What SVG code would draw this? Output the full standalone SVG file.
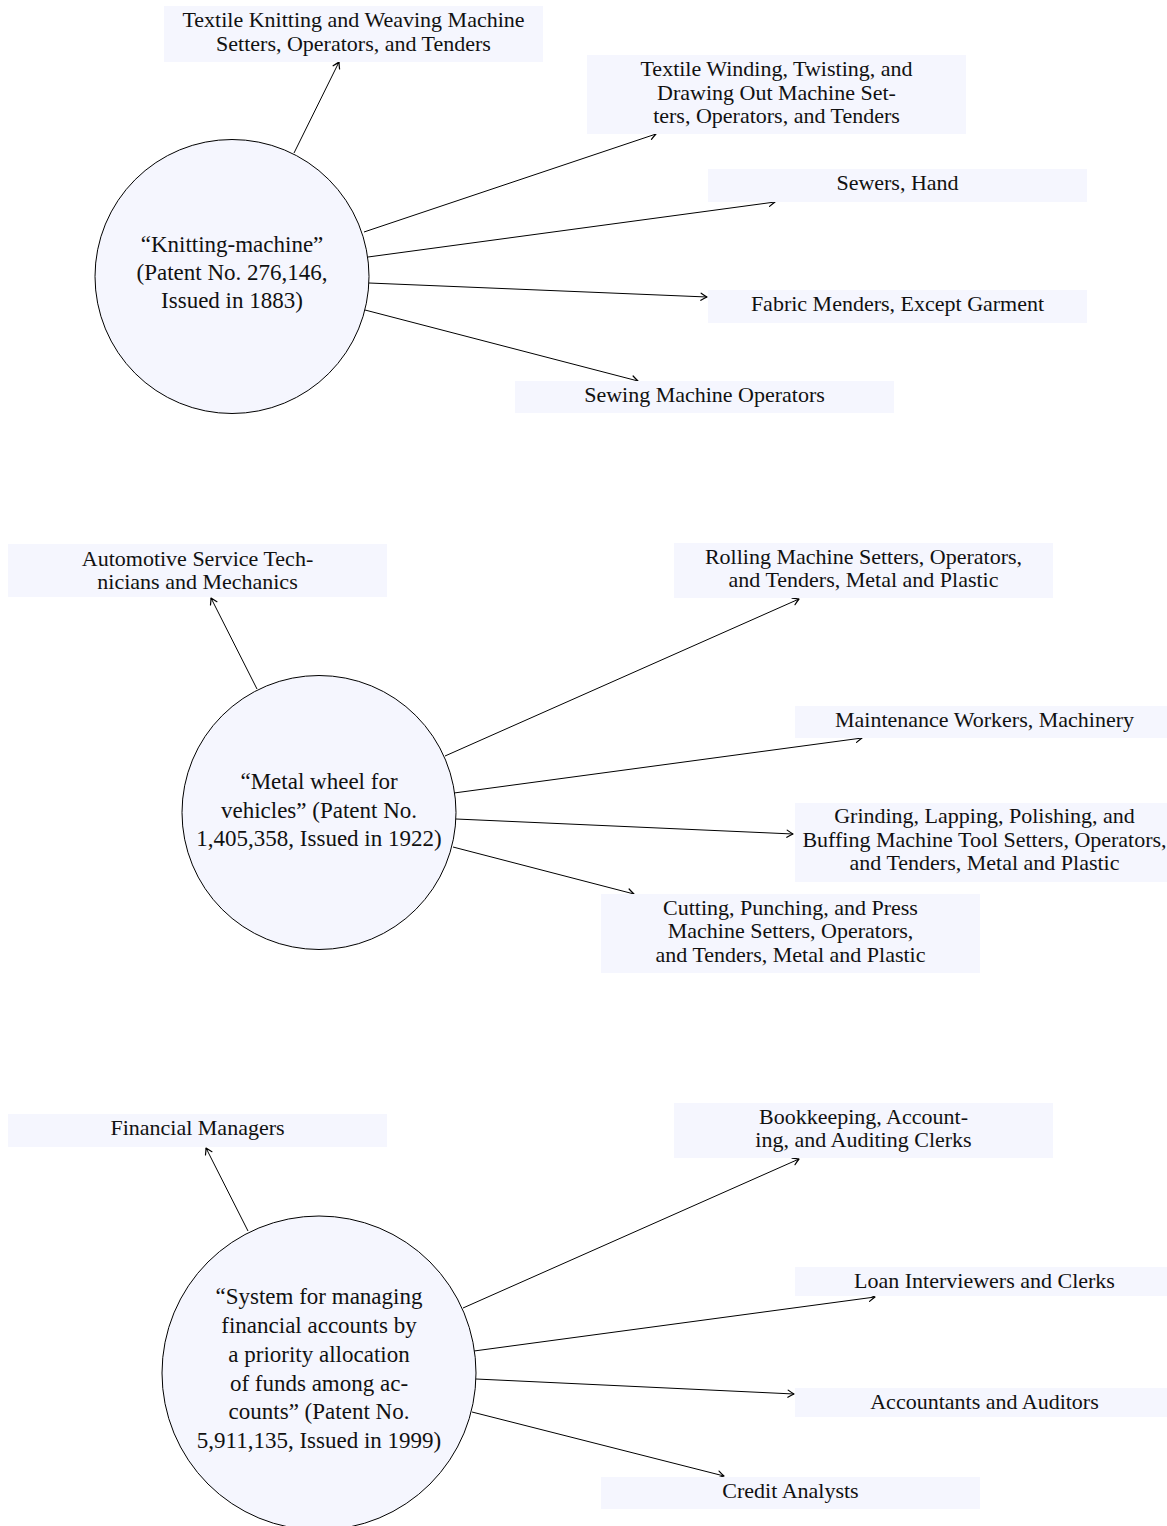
<svg xmlns="http://www.w3.org/2000/svg" width="1167" height="1526" viewBox="0 0 1167 1526">
<style>
.box{fill:#f5f6fe;stroke:none}
.circ{fill:#f5f6fe;stroke:#000;stroke-width:1}
.bt{font-family:"Liberation Serif","Times New Roman",serif;font-size:22px;fill:#111;text-anchor:middle}
.ct{font-family:"Liberation Serif","Times New Roman",serif;font-size:23px;fill:#111;text-anchor:middle}
.edge{stroke:#000;stroke-width:1;fill:none;marker-end:url(#arr)}
</style>
<defs>
<marker id="arr" markerUnits="userSpaceOnUse" markerWidth="14" markerHeight="14" viewBox="-7 -7 14 14" refX="0" refY="0" orient="auto">
<path d="M-6,-3.6 Q-2,-1 0,0 Q-2,1 -6,3.6" fill="none" stroke="#000" stroke-width="1.2" stroke-linecap="round" stroke-linejoin="round"/>
</marker>
</defs>
<rect width="1167" height="1526" fill="#fff"/>

<g id="connectors">
<line class="edge" x1="294" y1="153" x2="339" y2="62"/>
<line class="edge" x1="364" y1="232" x2="656" y2="134"/>
<line class="edge" x1="368" y1="257" x2="775" y2="202"/>
<line class="edge" x1="369" y1="283" x2="707" y2="297"/>
<line class="edge" x1="365" y1="310" x2="638" y2="381"/>

<line class="edge" x1="257" y1="689" x2="211" y2="598"/>
<line class="edge" x1="445" y1="756" x2="799" y2="599"/>
<line class="edge" x1="454" y1="793" x2="862" y2="738"/>
<line class="edge" x1="456" y1="819" x2="793" y2="834"/>
<line class="edge" x1="453" y1="847" x2="634" y2="894"/>

<line class="edge" x1="248" y1="1231" x2="206" y2="1148"/>
<line class="edge" x1="463" y1="1308" x2="799" y2="1159"/>
<line class="edge" x1="474" y1="1351" x2="875" y2="1297"/>
<line class="edge" x1="476" y1="1379" x2="794" y2="1394"/>
<line class="edge" x1="472" y1="1412" x2="724" y2="1476"/>
</g>

<g id="patent1">
<circle class="circ" cx="232" cy="276.5" r="137"/>
<text class="ct" x="232" y="252">“Knitting-machine”</text>
<text class="ct" x="232" y="280">(Patent No. 276,146,</text>
<text class="ct" x="232" y="308">Issued in 1883)</text>
</g>
<g id="occ-textile-knitting">
<rect class="box" x="164" y="6" width="379" height="56"/>
<text class="bt" x="353.5" y="27">Textile Knitting and Weaving Machine</text>
<text class="bt" x="353.5" y="51">Setters, Operators, and Tenders</text>
</g>
<g id="occ-textile-winding">
<rect class="box" x="587" y="55" width="379" height="79"/>
<text class="bt" x="776.5" y="76">Textile Winding, Twisting, and</text>
<text class="bt" x="776.5" y="99.5">Drawing Out Machine Set-</text>
<text class="bt" x="776.5" y="123">ters, Operators, and Tenders</text>
</g>
<g id="occ-sewers-hand">
<rect class="box" x="708" y="169" width="379" height="33"/>
<text class="bt" x="897.5" y="190">Sewers, Hand</text>
</g>
<g id="occ-fabric-menders">
<rect class="box" x="708" y="290" width="379" height="33"/>
<text class="bt" x="897.5" y="311">Fabric Menders, Except Garment</text>
</g>
<g id="occ-sewing-machine">
<rect class="box" x="515" y="381" width="379" height="32"/>
<text class="bt" x="704.5" y="402">Sewing Machine Operators</text>
</g>

<g id="patent2">
<circle class="circ" cx="319" cy="812.5" r="137"/>
<text class="ct" x="319" y="789">“Metal wheel for</text>
<text class="ct" x="319" y="818">vehicles” (Patent No.</text>
<text class="ct" x="319" y="846">1,405,358, Issued in 1922)</text>
</g>
<g id="occ-automotive">
<rect class="box" x="8" y="544" width="379" height="53"/>
<text class="bt" x="197.5" y="566">Automotive Service Tech-</text>
<text class="bt" x="197.5" y="589">nicians and Mechanics</text>
</g>
<g id="occ-rolling">
<rect class="box" x="674" y="543" width="379" height="55"/>
<text class="bt" x="863.5" y="564">Rolling Machine Setters, Operators,</text>
<text class="bt" x="863.5" y="587">and Tenders, Metal and Plastic</text>
</g>
<g id="occ-maintenance">
<rect class="box" x="795" y="706" width="379" height="32"/>
<text class="bt" x="984.5" y="727">Maintenance Workers, Machinery</text>
</g>
<g id="occ-grinding">
<rect class="box" x="795" y="803" width="379" height="79"/>
<text class="bt" x="984.5" y="823">Grinding, Lapping, Polishing, and</text>
<text class="bt" x="984.5" y="847">Buffing Machine Tool Setters, Operators,</text>
<text class="bt" x="984.5" y="870">and Tenders, Metal and Plastic</text>
</g>
<g id="occ-cutting">
<rect class="box" x="601" y="894" width="379" height="79"/>
<text class="bt" x="790.5" y="915">Cutting, Punching, and Press</text>
<text class="bt" x="790.5" y="938">Machine Setters, Operators,</text>
<text class="bt" x="790.5" y="962">and Tenders, Metal and Plastic</text>
</g>

<g id="patent3">
<circle class="circ" cx="319" cy="1373" r="157"/>
<text class="ct" x="319" y="1304">“System for managing</text>
<text class="ct" x="319" y="1333">financial accounts by</text>
<text class="ct" x="319" y="1362">a priority allocation</text>
<text class="ct" x="319" y="1391">of funds among ac-</text>
<text class="ct" x="319" y="1419">counts” (Patent No.</text>
<text class="ct" x="319" y="1448">5,911,135, Issued in 1999)</text>
</g>
<g id="occ-financial-managers">
<rect class="box" x="8" y="1114" width="379" height="33"/>
<text class="bt" x="197.5" y="1135">Financial Managers</text>
</g>
<g id="occ-bookkeeping">
<rect class="box" x="674" y="1103" width="379" height="55"/>
<text class="bt" x="863.5" y="1124">Bookkeeping, Account-</text>
<text class="bt" x="863.5" y="1147">ing, and Auditing Clerks</text>
</g>
<g id="occ-loan">
<rect class="box" x="795" y="1267" width="379" height="29"/>
<text class="bt" x="984.5" y="1288">Loan Interviewers and Clerks</text>
</g>
<g id="occ-accountants">
<rect class="box" x="795" y="1388" width="379" height="29"/>
<text class="bt" x="984.5" y="1409">Accountants and Auditors</text>
</g>
<g id="occ-credit">
<rect class="box" x="601" y="1477" width="379" height="32"/>
<text class="bt" x="790.5" y="1498">Credit Analysts</text>
</g>
</svg>
